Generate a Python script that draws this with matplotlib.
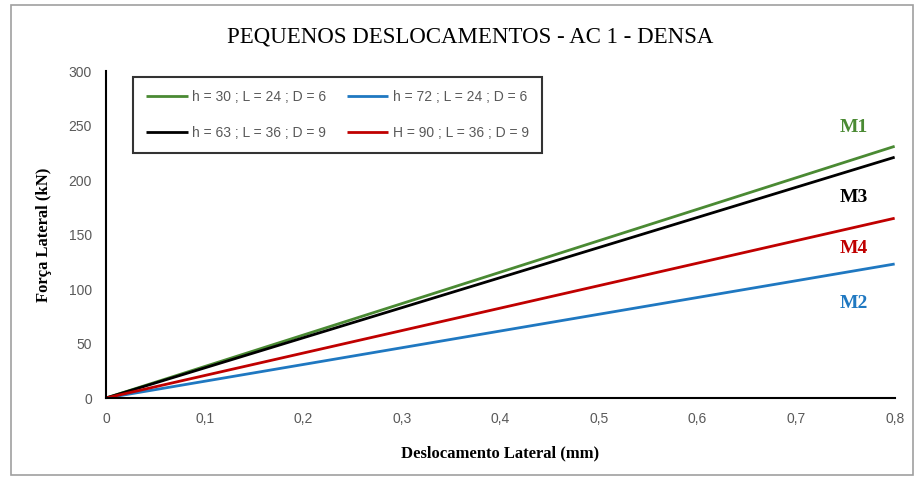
import numpy as np
import matplotlib.pyplot as plt
from matplotlib.patches import Rectangle
from matplotlib.ticker import FuncFormatter

# data (linear force-displacement curves)
deslocamento = [0.0, 0.8]
forca_m1 = [0.0, 231.0]
forca_m2 = [0.0, 123.0]
forca_m3 = [0.0, 221.0]
forca_m4 = [0.0, 165.0]

series_labels = ["h = 30 ; L = 24 ; D = 6", "h = 72 ; L = 24 ; D = 6",
                 "h = 63 ; L = 36 ; D = 9", "H = 90 ; L = 36 ; D = 9"]
curve_names = ["M1", "M2", "M3", "M4"]
colors = ["#4a8a33", "#1f78c1", "#000000", "#c00000"]

# label positions (data coords) for the M tags
tag_y = [248, 87, 184, 137]
tag_x = 0.759

fig = plt.figure(figsize=(9.16, 4.8), dpi=100)
ax = fig.add_axes([0.1157, 0.1708, 0.861, 0.681])

series = [forca_m1, forca_m2, forca_m3, forca_m4]
handles = []
for ys, c, lab in zip(series, colors, series_labels):
    h, = ax.plot(deslocamento, ys, color=c, lw=2.0, label=lab, solid_capstyle="butt")
    handles.append(h)

for name, c, ty in zip(curve_names, colors, tag_y):
    ax.text(tag_x, ty, name, color=c, fontsize=14, fontweight="bold",
            family="Liberation Serif", ha="center", va="center")

ax.set_xlim(0, 0.8)
ax.set_ylim(0, 300)
ax.set_xticks(np.arange(0, 0.81, 0.1))
ax.set_yticks(np.arange(0, 301, 50))
ax.xaxis.set_major_formatter(FuncFormatter(lambda v, p: "0" if abs(v) < 1e-9 else f"{v:.1f}".replace(".", ",")))
ax.tick_params(length=0, labelsize=10, labelcolor="#595959", pad=10)
for lbl in ax.get_xticklabels() + ax.get_yticklabels():
    lbl.set_family("Liberation Sans")

for s in ["top", "right"]:
    ax.spines[s].set_visible(False)
for s in ["left", "bottom"]:
    ax.spines[s].set_color("black")
    ax.spines[s].set_linewidth(1.5)

ax.set_xlabel("Deslocamento Lateral (mm)", family="Liberation Serif",
              fontweight="bold", fontsize=12, labelpad=14)
ax.set_ylabel("Força Lateral (kN)", family="Liberation Serif",
              fontweight="bold", fontsize=12, labelpad=12)

# column-major legend: first column M1, M3; second column M2, M4
order = [0, 2, 1, 3]
leg = ax.legend([handles[i] for i in order], [series_labels[i] for i in order],
                ncol=2, loc="upper left", bbox_to_anchor=(0.034, 0.982),
                borderaxespad=0,
                prop={"family": "Liberation Sans", "size": 10},
                frameon=True, fancybox=False, edgecolor="black",
                handlelength=3.0, handletextpad=0.3, columnspacing=1.5,
                labelspacing=1.55, borderpad=0.95)
leg.get_frame().set_linewidth(1.5)
for t in leg.get_texts():
    t.set_color("#595959")

fig.suptitle("PEQUENOS DESLOCAMENTOS - AC 1 - DENSA", family="Liberation Serif",
             fontsize=16.5, x=0.513, y=0.945)

fig.patches.append(Rectangle((0.012, 0.01), 0.985, 0.98, transform=fig.transFigure,
                             fill=False, edgecolor="#a0a0a0", lw=1.2))

fig.savefig("out.png", dpi=100)
